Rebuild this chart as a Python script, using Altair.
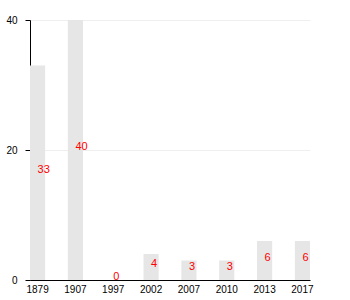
import altair as alt
import pandas as pd

years = ["1879", "1907", "1997", "2002", "2007", "2010", "2013", "2017"]
values = [33, 40, 0, 4, 3, 3, 6, 6]

df = pd.DataFrame({"year": years, "value": values})
df["half"] = df["value"] / 2

x = alt.X("year:N", sort=years, title=None,
          scale=alt.Scale(paddingInner=0.6, paddingOuter=0),
          axis=alt.Axis(labelAngle=0, ticks=False, labelPadding=4, labelFontSize=10,
                        labelColor="black", domainColor="black", grid=False,
                        labelFont="Liberation Sans"))

bars = alt.Chart(df).mark_bar(color="#e6e6e6").encode(
    x=x,
    y=alt.Y("value:Q", title=None, scale=alt.Scale(domain=[0, 40]),
            axis=alt.Axis(values=[0, 20, 40], tickSize=5, labelPadding=8, labelFontSize=10,
                          labelColor="black", domainColor="black", tickColor="black",
                          gridColor="#efefef", labelFont="Liberation Sans")),
)

labels = alt.Chart(df).mark_text(color="red", align="left", baseline="alphabetic",
                                 fontSize=11, font="Liberation Sans").encode(
    x=alt.X("year:N", sort=years),
    y=alt.Y("half:Q"),
    text=alt.Text("value:Q"),
)

chart = (bars + labels).properties(
    width=280, height=260,
    autosize=alt.AutoSizeParams(type="none"),
    padding={"left": 30, "top": 20, "right": 40, "bottom": 20},
).configure_view(stroke=None)

chart.save("out.html", embed_options={"renderer": "svg", "actions": False})
